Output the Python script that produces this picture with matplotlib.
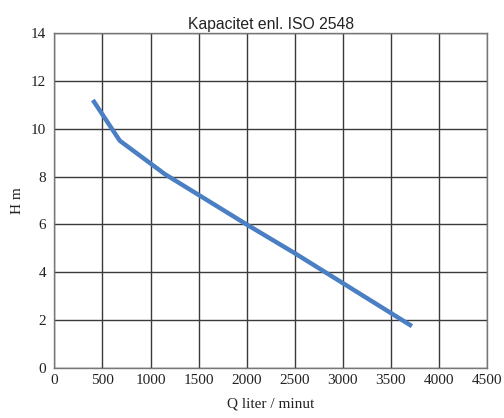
import matplotlib
matplotlib.use("Agg")
import matplotlib.pyplot as plt

q_values = [400, 680, 1150, 2000, 2500, 3000, 3720]
h_values = [11.2, 9.5, 8.1, 6.0, 4.8, 3.55, 1.75]
x_ticks = [0, 500, 1000, 1500, 2000, 2500, 3000, 3500, 4000, 4500]
y_ticks = [0, 2, 4, 6, 8, 10, 12, 14]

fig = plt.figure(figsize=(5.04, 4.18), dpi=100)
ax = fig.add_axes([0.108, 0.1196, 0.858, 0.8014])
ax.plot(q_values, h_values, color="#4a7fc4", linewidth=3.2, solid_capstyle="butt", zorder=3)
ax.set_xlim(0, 4500)
ax.set_ylim(0, 14)
ax.set_xticks(x_ticks)
ax.set_yticks(y_ticks)
ax.grid(True, color="#3a3a3a", linewidth=1.0)
ax.tick_params(axis="x", length=0, pad=4)
ax.tick_params(axis="y", length=0, pad=6)
for lab in ax.get_xticklabels() + ax.get_yticklabels():
    lab.set_family("Liberation Serif")
    lab.set_fontsize(11)
    lab.set_color("#222222")
for s in ax.spines.values():
    s.set_color("#777777")
    s.set_linewidth(1.0)
ax.set_xlabel("Q liter / minut", family="Liberation Serif", fontsize=11, color="#222222", labelpad=8)
ax.set_ylabel("H m", family="Liberation Serif", fontsize=11, color="#222222", labelpad=5)
ax.set_title("Kapacitet enl. ISO 2548", family="Liberation Sans", fontsize=11.3, color="#222222", pad=3)
fig.savefig("out.png", dpi=100)
